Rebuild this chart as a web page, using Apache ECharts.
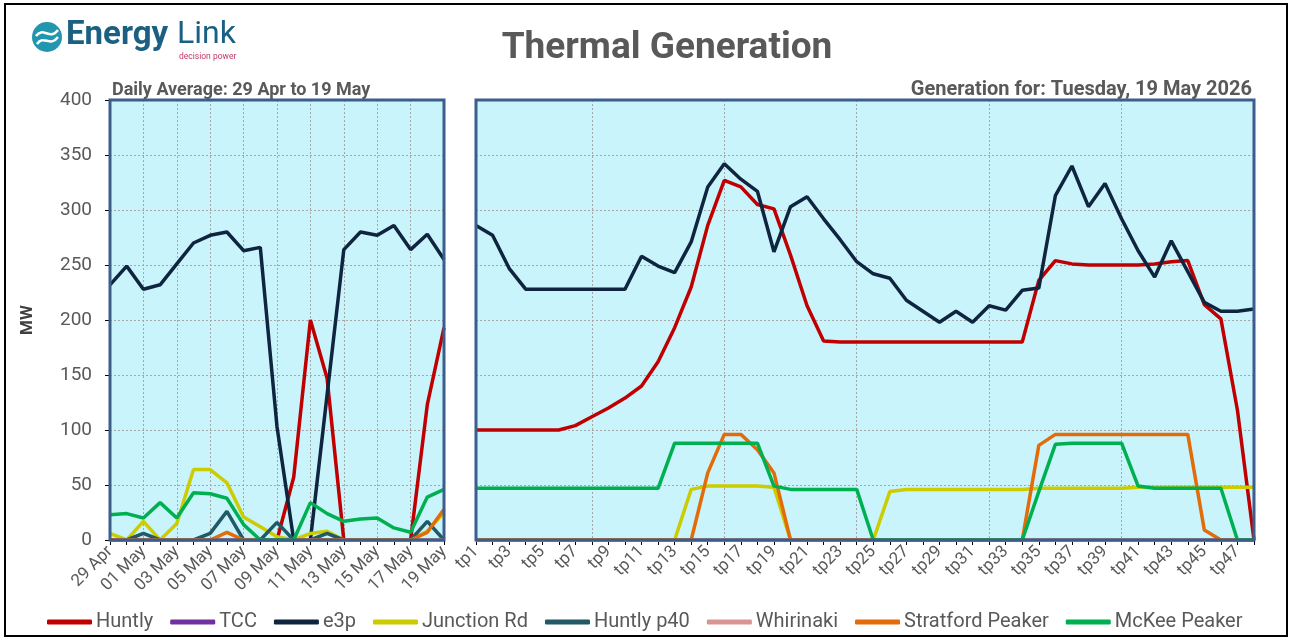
<!DOCTYPE html>
<html>
<head>
<meta charset="utf-8">
<script src="https://cdn.jsdelivr.net/npm/echarts@6/dist/echarts.min.js"></script>
<style>
  html, body { margin: 0; padding: 0; background: #fff; }
  #thermal { width: 1292px; height: 640px; }
</style>
</head>
<body>
<div id="thermal"></div>
<script>
// daily averages, 29 Apr - 19 May
var days = ['29 Apr', '30 Apr', '01 May', '02 May', '03 May', '04 May', '05 May', '06 May', '07 May', '08 May',
  '09 May', '10 May', '11 May', '12 May', '13 May', '14 May', '15 May', '16 May', '17 May', '18 May', '19 May'];
var dayHuntly = [0, 0, 0, 0, 0, 0, 0, 0, 0, 0, 0, 57, 200, 147, 0, 0, 0, 0, 0, 123, 193];
var dayTCC = [0, 0, 0, 0, 0, 0, 0, 0, 0, 0, 0, 0, 0, 0, 0, 0, 0, 0, 0, 0, 0];
var dayE3p = [232, 249, 228, 232, 251, 270, 277, 280, 263, 266, 103, 0, 0, 132, 264, 280, 277, 286, 264, 278, 255];
var dayJunction = [6, 0, 17, 0, 15, 64, 64, 52, 21, 12, 3, 0, 6, 8, 0, 0, 0, 0, 0, 8, 25];
var dayP40 = [0, 0, 6, 0, 0, 0, 6, 26, 0, 0, 16, 0, 0, 6, 0, 0, 0, 0, 0, 17, 0];
var dayWhirinaki = [0, 0, 0, 0, 0, 0, 0, 0, 0, 0, 0, 0, 0, 0, 0, 0, 0, 0, 0, 0, 0];
var dayStratford = [0, 0, 0, 0, 0, 0, 0, 7, 0, 0, 0, 0, 0, 0, 0, 0, 0, 0, 0, 7, 28];
var dayMcKee = [23, 24, 20, 34, 20, 43, 42, 38, 14, 0, 0, 0, 34, 24, 17, 19, 20, 11, 7, 39, 46];

// trading periods for 19 May
var periods = [];
for (var p = 1; p <= 48; p++) periods.push('tp' + p);
var tpHuntly = [100, 100, 100, 100, 100, 100, 104, 112, 120, 129, 140, 162, 193, 230, 286, 327, 321, 305, 301, 259,
  213, 181, 180, 180, 180, 180, 180, 180, 180, 180, 180, 180, 180, 180, 236, 254, 251, 250, 250, 250,
  250, 251, 253, 254, 214, 201, 118, 0];
var tpTCC = [0, 0, 0, 0, 0, 0, 0, 0, 0, 0, 0, 0, 0, 0, 0, 0, 0, 0, 0, 0, 0, 0, 0, 0,
  0, 0, 0, 0, 0, 0, 0, 0, 0, 0, 0, 0, 0, 0, 0, 0, 0, 0, 0, 0, 0, 0, 0, 0];
var tpE3p = [286, 277, 247, 228, 228, 228, 228, 228, 228, 228, 258, 249, 243, 271, 321, 342, 328, 317, 262, 303,
  312, 292, 273, 253, 242, 238, 218, 208, 198, 208, 198, 213, 209, 227, 229, 313, 340, 303, 324, 292,
  263, 239, 272, 244, 216, 208, 208, 210];
var tpJunction = [0, 0, 0, 0, 0, 0, 0, 0, 0, 0, 0, 0, 0, 46, 49, 49, 49, 49, 48, 0,
  0, 0, 0, 0, 0, 44, 46, 46, 46, 46, 46, 46, 46, 46, 47, 47, 47, 47, 47, 47,
  48, 48, 48, 48, 48, 48, 48, 48];
var tpP40 = [0, 0, 0, 0, 0, 0, 0, 0, 0, 0, 0, 0, 0, 0, 0, 0, 0, 0, 0, 0, 0, 0, 0, 0,
  0, 0, 0, 0, 0, 0, 0, 0, 0, 0, 0, 0, 0, 0, 0, 0, 0, 0, 0, 0, 0, 0, 0, 0];
var tpWhirinaki = [0, 0, 0, 0, 0, 0, 0, 0, 0, 0, 0, 0, 0, 0, 0, 0, 0, 0, 0, 0, 0, 0, 0, 0,
  0, 0, 0, 0, 0, 0, 0, 0, 0, 0, 0, 0, 0, 0, 0, 0, 0, 0, 0, 0, 0, 0, 0, 0];
var tpStratford = [0, 0, 0, 0, 0, 0, 0, 0, 0, 0, 0, 0, 0, 0, 61, 96, 96, 82, 61, 0,
  0, 0, 0, 0, 0, 0, 0, 0, 0, 0, 0, 0, 0, 0, 86, 96, 96, 96, 96, 96,
  96, 96, 96, 96, 9, 0, 0, 0];
var tpMcKee = [47, 47, 47, 47, 47, 47, 47, 47, 47, 47, 47, 47, 88, 88, 88, 88, 88, 88, 49, 46,
  46, 46, 46, 46, 0, 0, 0, 0, 0, 0, 0, 0, 0, 0, 44, 87, 88, 88, 88, 88,
  49, 47, 47, 47, 47, 47, 0, 0];

var yTicks = [0, 50, 100, 150, 200, 250, 300, 350, 400];

var names = ['Huntly', 'TCC', 'e3p', 'Junction Rd', 'Huntly p40', 'Whirinaki', 'Stratford Peaker', 'McKee Peaker'];
var colors = ['#c00000', '#7030a0', '#0f243e', '#cccc00', '#215967', '#d99594', '#e36c09', '#00b050'];
var dayData = [dayHuntly, dayTCC, dayE3p, dayJunction, dayP40, dayWhirinaki, dayStratford, dayMcKee];
var tpData = [tpHuntly, tpTCC, tpE3p, tpJunction, tpP40, tpWhirinaki, tpStratford, tpMcKee];

var font = 'Roboto, "Liberation Sans", sans-serif';
var grey = '#595959';
var border = '#3b5e8c';
var dotted = { color: '#a6a6a6', type: [2, 2], width: 1 };

var series = [];
names.forEach(function (n, i) {
  series.push({
    name: n, type: 'line', xAxisIndex: 0, yAxisIndex: 0, data: dayData[i],
    symbol: 'none', lineStyle: { width: 3.5, color: colors[i] }, itemStyle: { color: colors[i] }
  });
  series.push({
    name: n, type: 'line', xAxisIndex: 1, yAxisIndex: 1, data: tpData[i],
    symbol: 'none', lineStyle: { width: 3.5, color: colors[i] }, itemStyle: { color: colors[i] }
  });
});

function xAxis(gridIndex, data, splitInterval) {
  return {
    type: 'category', gridIndex: gridIndex, data: data, boundaryGap: false,
    axisLine: { show: false },
    axisTick: { show: true, interval: 0, length: 5, lineStyle: { color: '#000' } },
    axisLabel: { interval: 1, rotate: 45, fontSize: 17, color: grey, fontFamily: font, margin: 9 },
    splitLine: { show: true, interval: splitInterval, lineStyle: dotted }
  };
}

var option = {
  animation: false,
  backgroundColor: '#fff',
  title: [
    { text: 'Thermal Generation', left: 662, top: 25, textAlign: 'center',
      textStyle: { fontSize: 37, fontWeight: 'bold', color: grey, fontFamily: font } },
    { text: 'Daily Average: 29 Apr to 19 May', left: 107, top: 76,
      textStyle: { fontSize: 18, fontWeight: 'bold', color: grey, fontFamily: font } },
    { text: 'Generation for: Tuesday, 19 May 2026', right: 35, top: 75,
      textStyle: { fontSize: 20, fontWeight: 'bold', color: grey, fontFamily: font } }
  ],
  legend: {
    data: names, left: 42, top: 607, itemWidth: 45, itemHeight: 5, itemGap: 17, icon: 'roundRect',
    textStyle: { fontSize: 20, color: grey, fontFamily: font, padding: [0, 0, 0, -1] }
  },
  grid: [
    { left: 110, top: 100, width: 334, height: 440, show: true, backgroundColor: '#c9f4fc', borderWidth: 0 },
    { left: 476, top: 100, width: 778, height: 440, show: true, backgroundColor: '#c9f4fc', borderWidth: 0 }
  ],
  xAxis: [
    xAxis(0, days, 1),
    xAxis(1, periods, function (i) { return i % 8 === 7; })
  ],
  yAxis: [
    { type: 'value', gridIndex: 0, min: yTicks[0], max: yTicks[yTicks.length - 1], interval: 50,
      name: 'MW', nameLocation: 'middle', nameGap: 74, nameRotate: 90,
      nameTextStyle: { fontSize: 17, fontWeight: 'bold', color: '#404040', fontFamily: font },
      axisLine: { show: false },
      axisTick: { show: true, length: 5, lineStyle: { color: '#000' } },
      axisLabel: { fontSize: 19, color: grey, fontFamily: font, margin: 18 },
      splitLine: { show: true, lineStyle: dotted } },
    { type: 'value', gridIndex: 1, min: yTicks[0], max: yTicks[yTicks.length - 1], interval: 50,
      axisLine: { show: false }, axisTick: { show: false }, axisLabel: { show: false },
      splitLine: { show: true, lineStyle: dotted } }
  ],
  graphic: [
    { type: 'rect', shape: { x: 5, y: 4, width: 1282, height: 632 },
      style: { fill: 'none', stroke: '#000', lineWidth: 2 }, silent: true },
    { type: 'rect', z: 100, shape: { x: 110, y: 100, width: 334, height: 440 },
      style: { fill: 'none', stroke: border, lineWidth: 3 }, silent: true },
    { type: 'rect', z: 100, shape: { x: 476, y: 100, width: 778, height: 440 },
      style: { fill: 'none', stroke: border, lineWidth: 3 }, silent: true },
    { type: 'circle', shape: { cx: 47, cy: 37, r: 15 }, style: { fill: '#2196ae' } },
    { type: 'bezierCurve', shape: { x1: 36, y1: 36, x2: 58, y2: 30, cpx1: 43, cpy1: 26, cpx2: 50, cpy2: 41 },
      style: { stroke: '#fff', lineWidth: 2.5, fill: 'none' } },
    { type: 'bezierCurve', shape: { x1: 37, y1: 44, x2: 58, y2: 37, cpx1: 44, cpy1: 34, cpx2: 50, cpy2: 48 },
      style: { stroke: '#fff', lineWidth: 2.5, fill: 'none' } },
    { type: 'text', left: 66, top: 19,
      style: { text: 'Energy', fontSize: 33, fontWeight: 'bold', fill: '#1b5f82', fontFamily: font } },
    { type: 'text', left: 177, top: 19,
      style: { text: 'Link', fontSize: 32, fontWeight: 'normal', fill: '#1b5f82', fontFamily: font } },
    { type: 'text', left: 179, top: 52,
      style: { text: 'decision power', fontSize: 8.5, fill: '#c0396b', fontFamily: font } }
  ],
  series: series
};

var chart = echarts.init(document.getElementById('thermal'));
chart.setOption(option);
</script>
</body>
</html>
